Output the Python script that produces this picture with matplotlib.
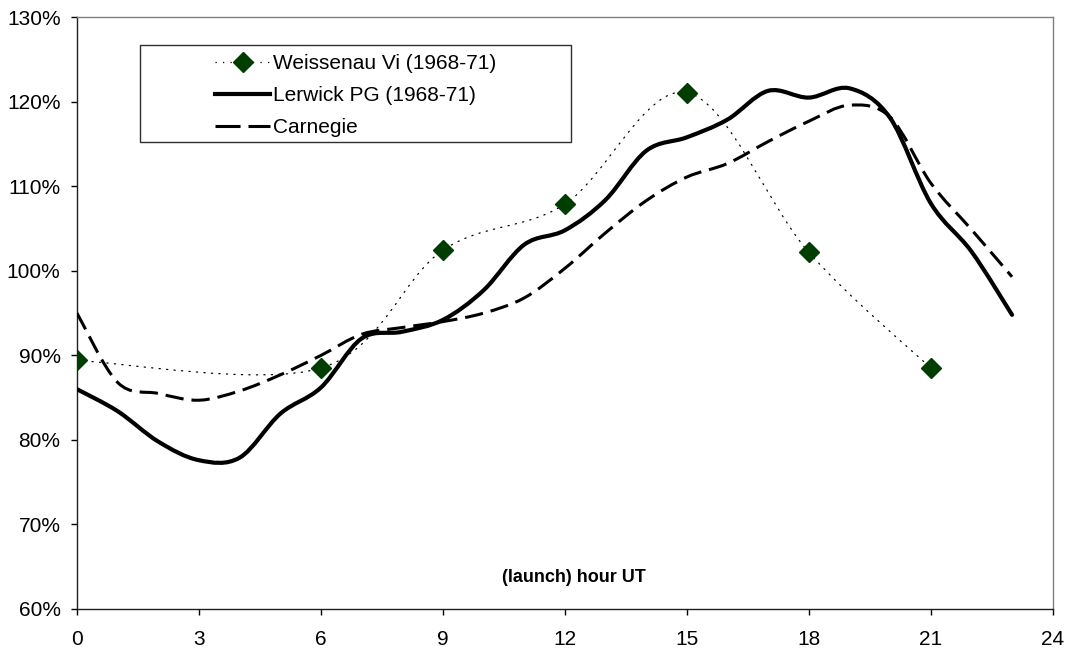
import matplotlib
matplotlib.use("Agg")
import matplotlib.pyplot as plt
from matplotlib.path import Path
from matplotlib.patches import PathPatch, Rectangle
from matplotlib.lines import Line2D
from matplotlib.ticker import FuncFormatter
import numpy as np

plt.rcParams['font.family'] = ['Liberation Sans', 'DejaVu Sans']

# ---- data ----
hours = list(range(24))
lerwick = [86.0, 83.4, 79.8, 77.6, 77.9, 83.1, 86.2, 92.0, 92.8, 94.2, 97.7, 103.1,
           104.8, 108.4, 114.2, 115.8, 117.9, 121.3, 120.5, 121.6, 118.1, 108.0, 102.3, 94.8]
carnegie = [95.0, 86.8, 85.5, 84.7, 85.8, 87.7, 90.0, 92.5, 93.3, 94.0, 95.0, 96.8,
            100.3, 104.5, 108.3, 111.1, 112.7, 115.3, 117.7, 119.6, 118.2, 110.4, 104.9, 99.3]
weis_hours = [0, 6, 9, 12, 15, 18, 21]
weissenau = [89.4, 88.5, 102.45, 107.9, 121.1, 102.2, 88.5]

labels = ["Weissenau Vi (1968-71)", "Lerwick PG (1968-71)", "Carnegie"]
xticks = [0, 3, 6, 9, 12, 15, 18, 21, 24]
yticks = [60, 70, 80, 90, 100, 110, 120, 130]
xlabel = "(launch) hour UT"

W, H = 1072, 652
fig = plt.figure(figsize=(W / 100, H / 100), dpi=100)
L, R, T, B = 77, 1052.7, 17.3, 609
ax = fig.add_axes([L / W, 1 - B / H, (R - L) / W, (B - T) / H])


def smooth_path(xs, ys):
    """Excel-like smoothed line: Catmull-Rom converted to cubic Bezier segments."""
    P = np.column_stack([xs, ys]).astype(float)
    n = len(P)
    verts = [P[0]]
    codes = [Path.MOVETO]
    for i in range(n - 1):
        p0 = P[i - 1] if i > 0 else P[i]
        p1 = P[i]
        p2 = P[i + 1]
        p3 = P[i + 2] if i + 2 < n else P[i + 1]
        c1 = p1 + (p2 - p0) / 6.0
        c2 = p2 - (p3 - p1) / 6.0
        verts += [c1, c2, p2]
        codes += [Path.CURVE4] * 3
    return Path(np.array(verts), codes)


green = '#003d00'
w_style = dict(color='black', lw=0.9, ls=(0, (1, 5)))
l_style = dict(color='black', lw=3.0, ls='-')
c_style = dict(color='black', lw=2.2, ls=(0, (6, 2.6)))

ax.add_patch(PathPatch(smooth_path(weis_hours, weissenau), fill=False,
                       edgecolor=w_style['color'], lw=w_style['lw'], ls=w_style['ls'],
                       capstyle='round', zorder=2))
ax.add_patch(PathPatch(smooth_path(hours, carnegie), fill=False,
                       edgecolor=c_style['color'], lw=c_style['lw'], ls=c_style['ls'],
                       capstyle='butt', zorder=3))
ax.add_patch(PathPatch(smooth_path(hours, lerwick), fill=False,
                       edgecolor=l_style['color'], lw=l_style['lw'], ls=l_style['ls'],
                       capstyle='round', joinstyle='round', zorder=4))
ax.plot(weis_hours, weissenau, ls='none', marker='D', markersize=10.5,
        markerfacecolor=green, markeredgecolor=green, zorder=5)

ax.set_xlim(0, 24)
ax.set_ylim(60, 130)
ax.set_xticks(xticks)
ax.set_yticks(yticks)
ax.yaxis.set_major_formatter(FuncFormatter(lambda v, p: f"{v:.0f}%"))
ax.tick_params(axis='both', direction='out', length=4.3, width=1, colors='black',
               labelsize=15)
ax.tick_params(axis='y', pad=7.5)
ax.tick_params(axis='x', pad=11)
for s in ['left', 'bottom']:
    ax.spines[s].set_color('#202020')
    ax.spines[s].set_linewidth(1.0)
for s in ['top', 'right']:
    ax.spines[s].set_color('#808080')
    ax.spines[s].set_linewidth(1.0)

ax.text((574 - L) / (R - L), (B - 578) / (B - T), xlabel, transform=ax.transAxes,
        ha='center', va='center', fontsize=13, fontweight='bold')

# legend
fig.patches.append(Rectangle((140 / W, 1 - 141.7 / H), (570.7 - 140) / W, (141.7 - 45) / H,
                             transform=fig.transFigure, fill=False, edgecolor='#303030',
                             lw=1.0, zorder=10))
handles = [
    Line2D([], [], marker='D', markersize=10.5, markerfacecolor=green,
           markeredgecolor=green, **w_style),
    Line2D([], [], **l_style),
    Line2D([], [], color='black', lw=2.2, ls=(0, (8.2, 2.6))),
]
leg = ax.legend(handles, labels, loc='upper left', frameon=False,
                bbox_to_anchor=(215 / W, 1 - 54.2 / H), bbox_transform=fig.transFigure,
                borderpad=0, borderaxespad=0, handlelength=2.65, handletextpad=0.15,
                labelspacing=0.62, fontsize=15)

fig.savefig("out.png", dpi=100)
